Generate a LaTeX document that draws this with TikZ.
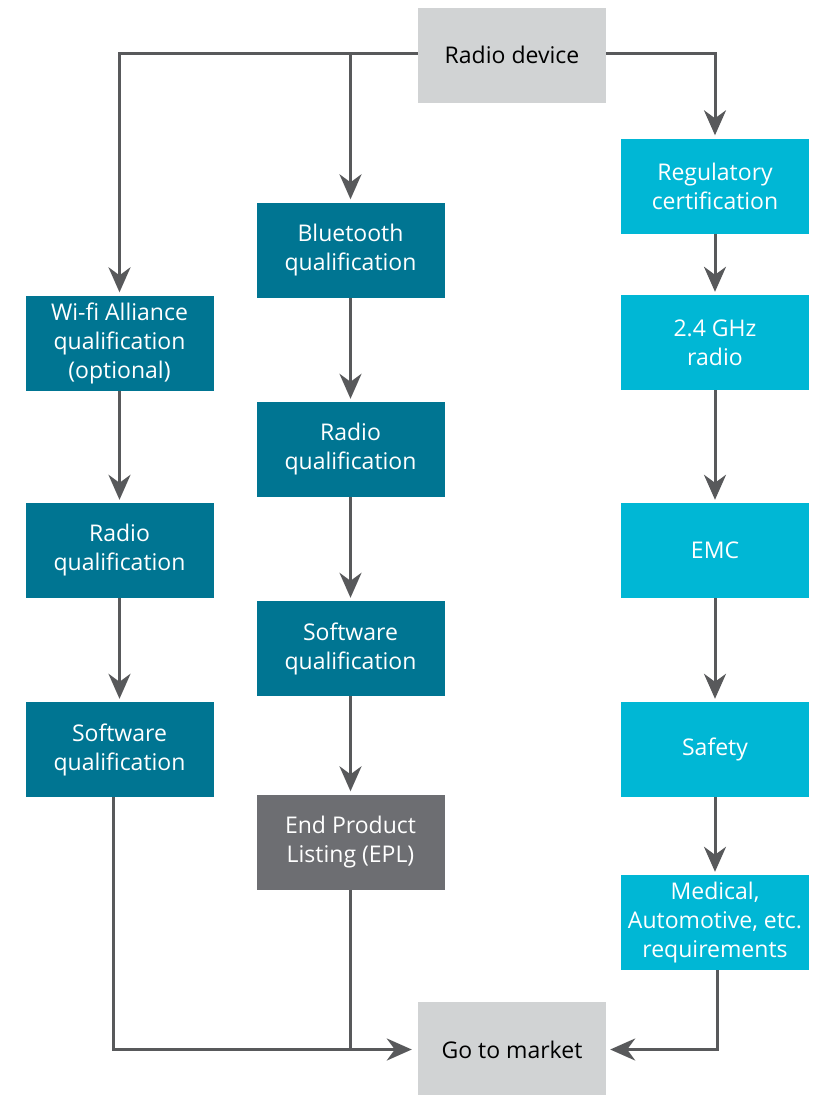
\documentclass[tikz,border=0pt]{standalone}
\usepackage{fontspec}
\setmainfont{Open Sans}
\usetikzlibrary{arrows.meta}

\definecolor{darkteal}{HTML}{007592}
\definecolor{lightteal}{HTML}{00B7D5}
\definecolor{midgrey}{HTML}{6D6E72}
\definecolor{palegrey}{HTML}{D1D3D4}
\definecolor{linegrey}{HTML}{58595B}

\tikzset{
  darkbox/.style={fill=darkteal, text=white},
  lightbox/.style={fill=lightteal, text=white},
  greybox/.style={fill=midgrey, text=white},
  paleb/.style={fill=palegrey, text=black},
  link/.style={draw=linegrey, line width=3pt},
  arrowlink/.style={link, -{Stealth[length=25pt, width=22pt, inset=8pt]}, shorten >=3pt}
}

\begin{document}
\begin{tikzpicture}[x=1pt,y=-1pt]
\useasboundingbox (0,0) rectangle (826,1095);
\begin{scope}[every node/.style={minimum width=188pt, minimum height=95pt, inner sep=0pt, align=center, font=\fontsize{23}{29}\selectfont}]

\node[paleb] (dev) at (512,55) {Radio device};

\node[darkbox] (wifi) at (119.5,343) {Wi-fi Alliance\\qualification\\(optional)};
\node[darkbox] (lrad) at (119.5,550.5) {Radio\\qualification};
\node[darkbox] (lsw) at (119.5,749.5) {Software\\qualification};

\node[darkbox] (bt) at (350.5,250) {Bluetooth\\qualification};
\node[darkbox] (mrad) at (350.5,449.5) {Radio\\qualification};
\node[darkbox] (msw) at (350.5,648.5) {Software\\qualification};
\node[greybox] (epl) at (350.5,842) {End Product\\Listing (EPL)};

\node[lightbox] (reg) at (715,186) {Regulatory\\certification};
\node[lightbox] (ghz) at (715,342.5) {2.4 GHz\\radio};
\node[lightbox] (emc) at (715,550.5) {EMC};
\node[lightbox] (safe) at (715,749.5) {Safety};
\node[lightbox] (med) at (715,922.5) {Medical,\\Automotive, etc.\\requirements};

\node[paleb] (go) at (512,1049.5) {Go to market};

\draw[arrowlink] ([yshift=2pt]dev.west) -| (wifi.north);
\draw[arrowlink] ([yshift=2pt]dev.west -| bt.north) -- (bt.north);
\draw[arrowlink] ([yshift=2pt]dev.east) -| (reg.north);

\draw[arrowlink] (wifi) -- (lrad);
\draw[arrowlink] (lrad) -- (lsw);

\draw[arrowlink] (bt) -- (mrad);
\draw[arrowlink] (mrad) -- (msw);
\draw[arrowlink] (msw) -- (epl);

\draw[arrowlink] (reg) -- (ghz);
\draw[arrowlink] (ghz) -- (emc);
\draw[arrowlink] (emc) -- (safe);
\draw[arrowlink] (safe) -- (med);

\draw[arrowlink, shorten >=6pt] ([xshift=-6pt]lsw.south) |- (go.west);
\draw[link] (epl.south) -- (epl.south |- go.west);
\draw[arrowlink, shorten >=4pt] ([xshift=2.5pt]med.south) |- (go.east);

\end{scope}
\end{tikzpicture}
\end{document}
